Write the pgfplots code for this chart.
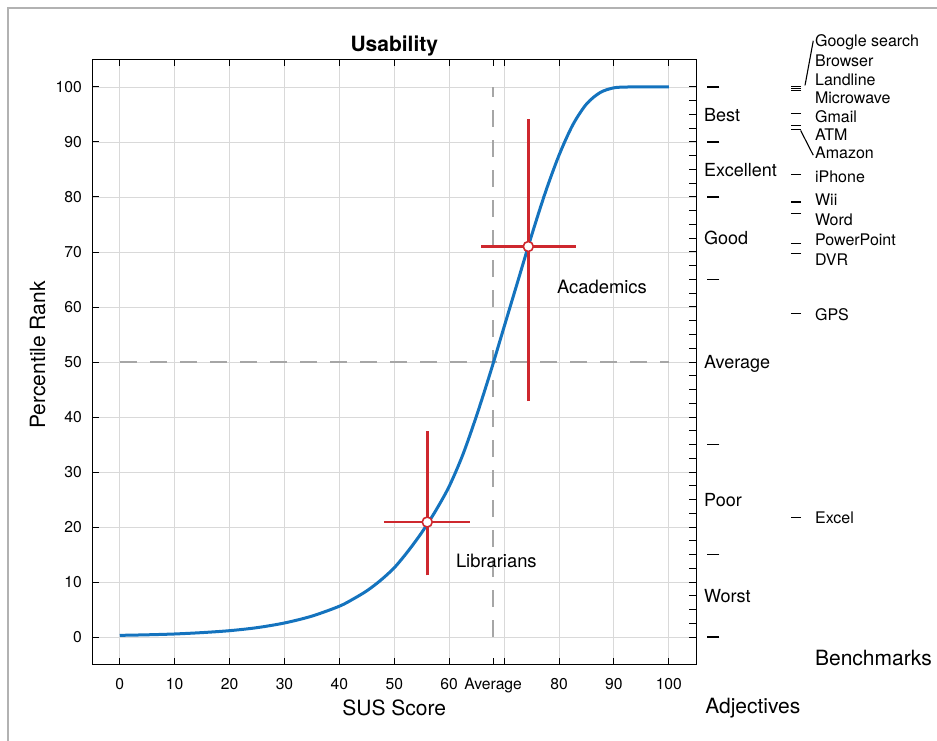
\documentclass[border=0pt]{standalone}
\usepackage{fontspec}
\setmainfont{TeX Gyre Heros}
\usepackage{pgfplots}
\pgfplotsset{compat=1.18}
\definecolor{curveblue}{RGB}{20,115,190}
\definecolor{errred}{RGB}{206,40,46}

\pgfplotsset{
  susframe/.style={
    at={(0,0)}, anchor=south west,
    scale only axis, width=604pt, height=605pt,
    xmin=-5, xmax=105, ymin=-5, ymax=105,
    tick align=inside,
    axis line style={black, line width=1.2pt},
    tick style={black, line width=1pt},
    /pgf/number format/assume math mode=true,
    ticklabel style={font=\fontsize{15.7}{18}\selectfont, inner sep=0pt},
    xticklabel style={anchor=north, yshift=-13.5pt},
    yticklabel style={anchor=east, xshift=-10.3pt},
  },
}

\begin{document}
\begin{tikzpicture}
\useasboundingbox (-92.3pt,-75.5pt) rectangle (844.7pt,664.5pt);
\draw[black!30, line width=1.5pt] (-84.3pt,-80pt) -- (-84.3pt,656.5pt) -- (850pt,656.5pt);

\begin{axis}[
  susframe,
  clip=false,
  xtick={0,10,20,30,40,50,60,70,80,90,100},
  xticklabels={0,10,20,30,40,50,60,{\phantom{7}},80,90,100},
  ytick={0,10,...,100}, ytick pos=left,
  major tick length=7pt,
  grid=major, grid style={black!15, line width=0.9pt},
  title={Usability},
  title style={font=\fontsize{21}{24}\selectfont\bfseries, at={(0.5,1)}, anchor=base, yshift=2pt},
  xlabel={SUS Score},
  xlabel style={font=\fontsize{21}{24}\selectfont, at={(0.5,-0.0835)}, anchor=base},
  ylabel={Percentile Rank},
  ylabel style={font=\fontsize{21}{24}\selectfont, at={(-0.0783,0.5116)}, anchor=base},
]

% reference lines at the average
\addplot[black!35, line width=2pt, dash pattern=on 17pt off 13pt] coordinates {(0,50) (100,50)};
\addplot[black!35, line width=2pt, dash pattern=on 17pt off 13pt] coordinates {(68,0) (68,100)};

% percentile curve
\addplot[curveblue, line width=3pt, smooth] coordinates {
  (0,0.3) (5,0.4) (10,0.55) (15,0.8) (20,1.15) (25,1.7) (30,2.55) (35,3.8)
  (40,5.6) (42.5,6.9) (45,8.4) (47.5,10.3) (50,12.6) (52.5,15.6) (55,19.0)
  (57.5,22.9) (60,27.4) (62.5,33.2) (65,40.3) (67.5,48.1) (70,56.4)
  (72.5,64.7) (75,73.0) (77.5,80.8) (80,87.6) (82.5,93.1) (85,96.9)
  (87.5,99.0) (90,99.85) (92.5,100) (95,100) (100,100)
};

% error crosses
\addplot[errred, line width=2.6pt] coordinates {(48.1,20.9) (63.7,20.9)};
\addplot[errred, line width=2.6pt] coordinates {(56,11.2) (56,37.45)};
\addplot[errred, line width=2.6pt] coordinates {(65.8,71) (83.0,71)};
\addplot[errred, line width=2.6pt] coordinates {(74.4,42.9) (74.4,94.25)};
\addplot[only marks, mark=*, mark size=5pt, mark options={fill=white, draw=errred, line width=1.6pt}]
  coordinates {(56,20.9) (74.4,71)};

\node[anchor=base west, inner sep=0pt, font=\fontsize{18.4}{20}\selectfont] at (axis cs:79.6,62.5) {Academics};
\node[anchor=base west, inner sep=0pt, font=\fontsize{18.4}{20}\selectfont] at (axis cs:61.2,12.7) {Librarians};

% adjective scale
\addplot[only marks, mark=-, mark size=6pt, mark options={black, line width=1.2pt}]
  coordinates {(108.1,100) (108.1,90) (108.1,80) (108.1,65) (108.1,35) (108.1,15) (108.1,0)};
\begin{scope}[every node/.style={anchor=base west, inner sep=0pt, font=\fontsize{18}{20}\selectfont}]
\node at (axis cs:106.4,93.8) {Best};
\node at (axis cs:106.4,83.8) {Excellent};
\node at (axis cs:106.4,71.3) {Good};
\node at (axis cs:106.4,48.8) {Average};
\node at (axis cs:106.4,23.8) {Poor};
\node at (axis cs:106.4,6.3) {Worst};
\end{scope}
\node[anchor=base west, inner sep=0pt, font=\fontsize{21}{24}\selectfont] at (axis cs:106.6,-13.95) {Adjectives};

% benchmarks
\addplot[only marks, mark=-, mark size=5pt, mark options={black, line width=1.2pt}]
  coordinates {(123.2,100.1) (123.2,99.7) (123.2,99.3) (123.2,99.3) (123.2,95.2)
    (123.2,93.0) (123.2,92.3) (123.2,84.1) (123.2,79.1) (123.2,77.0)
    (123.2,71.6) (123.2,69.8) (123.2,58.8) (123.2,21.8)};
\addplot[black, line width=1.1pt] coordinates {(124.8,100.3) (126.3,108.4)};
\addplot[black, line width=1.1pt] coordinates {(124.0,92.1) (126.3,87.6)};
\begin{scope}[every node/.style={anchor=base west, inner sep=0pt, font=\fontsize{16}{18}\selectfont}]
\node at (axis cs:126.6,107.3) {Google search};
\node at (axis cs:126.6,103.7) {Browser};
\node at (axis cs:126.6,100.3) {Landline};
\node at (axis cs:126.6,97.0) {Microwave};
\node at (axis cs:126.6,93.6) {Gmail};
\node at (axis cs:126.6,90.3) {ATM};
\node at (axis cs:126.6,87.0) {Amazon};
\node at (axis cs:126.6,82.7) {iPhone};
\node at (axis cs:126.6,78.5) {Wii};
\node at (axis cs:126.6,74.8) {Word};
\node at (axis cs:126.6,71.2) {PowerPoint};
\node at (axis cs:126.6,67.6) {DVR};
\node at (axis cs:126.6,57.6) {GPS};
\node at (axis cs:126.6,20.6) {Excel};
\end{scope}
\node[anchor=base west, inner sep=0pt, font=\fontsize{21}{24}\selectfont] at (axis cs:126.6,-5.15) {Benchmarks};
\end{axis}

% overlay: average tick on the x axis and the fine ticks of the right-hand scale
\begin{axis}[
  susframe,
  xtick={68}, xticklabels={Average},
  major tick length=7pt,
  ytick={0,2.5,...,100}, yticklabels={}, ytick pos=right,
]
\end{axis}
\end{tikzpicture}
\end{document}
